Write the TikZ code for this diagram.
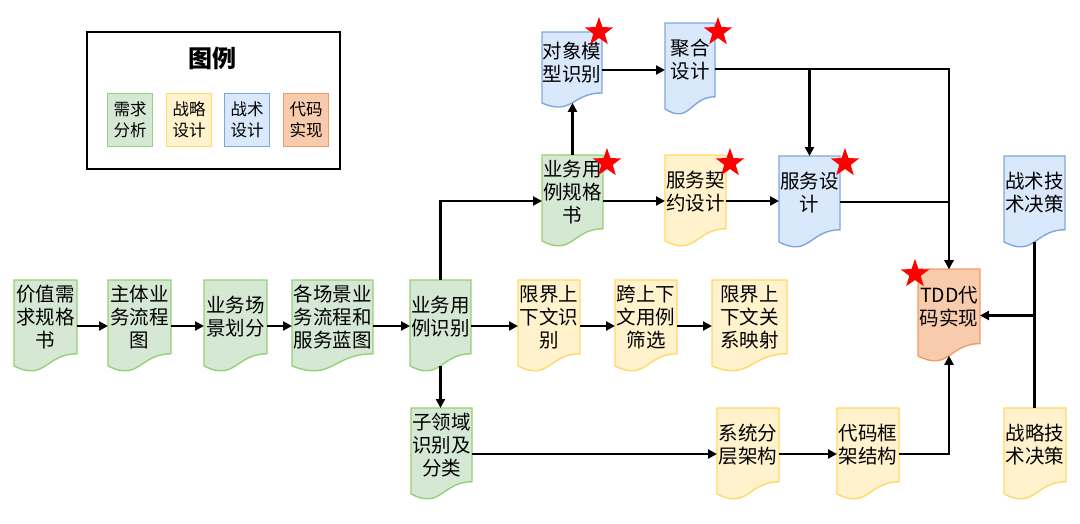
\documentclass[tikz,border=0pt]{standalone}
\usepackage{fontspec}
\newfontfamily\cjk{Noto Sans CJK SC}
\usetikzlibrary{calc,arrows.meta,shapes.geometric}
\pgfdeclarelayer{bg}
\pgfsetlayers{bg,main}
\definecolor{gfill}{HTML}{D5E8D4}
\definecolor{gline}{HTML}{97D077}
\definecolor{yfill}{HTML}{FFF2CC}
\definecolor{yline}{HTML}{FFD966}
\definecolor{bfill}{HTML}{DAE8FC}
\definecolor{bline}{HTML}{7EA6E0}
\definecolor{ofill}{HTML}{F8CBAD}
\definecolor{oline}{HTML}{F19C65}
\tikzset{
  box/.style={rectangle, draw=none, inner sep=0pt, outer sep=0pt},
  txt/.style={font=\cjk\fontsize{19.5}{23}\selectfont, align=center, inner sep=0pt},
  sgreen/.style={fill=gfill, draw=gline, line width=1.4pt},
  syellow/.style={fill=yfill, draw=yline, line width=1.4pt},
  sblue/.style={fill=bfill, draw=bline, line width=1.4pt},
  sorange/.style={fill=ofill, draw=oline, line width=1.4pt},
  arr/.style={line width=2.2pt, -{Triangle[length=9pt,width=9pt]}},
  ln/.style={line width=2.2pt},
  starmark/.style={star, star points=5, star point ratio=2.5, minimum size=30pt, inner sep=0pt, fill=red, draw=none},
  legbox/.style={rectangle, minimum width=45pt, minimum height=53pt, inner sep=0pt, align=center, font=\cjk\fontsize{16.5}{21}\selectfont},
}
\newcommand\docbox[7]{%
  \node[box, minimum width=#4pt, minimum height=#5pt, anchor=north west] (#1) at (#2,#3) {};
  \begin{pgfonlayer}{bg}
    \path[#6] (#1.north west) -- (#1.north east) -- ($(#1.north east)!0.802!(#1.south east)$)
      .. controls ($(#1.north)!0.802!(#1.south)$) and ($(#1.north)!1.1075!(#1.south)$) .. ($(#1.north west)!0.934!(#1.south west)$) -- cycle;
  \end{pgfonlayer}
  \node[txt] (#1-t) at ($(#1.north)!0.401!(#1.south)$) {#7};
  \coordinate (#1-b) at ($(#1.north)!0.933!(#1.south)$);
}
\begin{document}
\begin{tikzpicture}[x=1pt,y=-1pt]
\useasboundingbox (0,0) rectangle (1080,523);

% legend
\node[rectangle, draw=black, line width=2.4pt, minimum width=253pt, minimum height=137pt, anchor=north west, inner sep=0pt] (legend) at (86,31) {};
\node[font=\cjk\bfseries\fontsize{24}{26}\selectfont, inner sep=0pt] (legtitle) at (212,58) {图例};
\node[legbox, sgreen, anchor=north west] (lg1) at (107,93) {需求\\分析};
\node[legbox, syellow, anchor=north west] (lg2) at (166,93) {战略\\设计};
\node[legbox, sblue, anchor=north west] (lg3) at (224,93) {战术\\设计};
\node[legbox, sorange, anchor=north west] (lg4) at (283,93) {代码\\实现};

% row 1
\docbox{req}{14}{280}{63}{92}{sgreen}{价值需\\求规格\\书}
\docbox{flow}{108}{280}{63}{92}{sgreen}{主体业\\务流程\\图}
\docbox{scene}{204}{280}{63}{92}{sgreen}{业务场\\景划分}
\docbox{blueprint}{292}{280}{81}{92}{sgreen}{各场景业\\务流程和\\服务蓝图}
\docbox{ucid}{410}{280}{61}{92}{sgreen}{业务用\\例识别}
\docbox{bc}{518}{280}{62}{92}{syellow}{限界上\\下文识\\别}
\docbox{cross}{615}{280}{62}{92}{syellow}{跨上下\\文用例\\筛选}
\docbox{bcmap}{712}{280}{75}{92}{syellow}{限界上\\下文关\\系映射}

% row 2
\docbox{ucspec}{542}{155}{61}{92}{sgreen}{业务用\\例规格\\书}
\docbox{contract}{665}{155}{61}{92}{syellow}{服务契\\约设计}
\docbox{svc}{779}{156}{61}{92}{sblue}{服务设\\计}

% row 0
\docbox{obj}{542}{32}{60}{76}{sblue}{对象模\\型识别}
\docbox{agg}{665}{23}{50}{92}{sblue}{聚合\\设计}

% right side
\docbox{tdd}{918}{269}{62}{93}{sorange}{TDD代\\码实现}
\docbox{tact}{1004}{156}{61}{92}{sblue}{战术技\\术决策}
\docbox{strat}{1004}{408}{62}{92}{syellow}{战略技\\术决策}

% row 3
\docbox{sub}{411}{408}{61}{92}{sgreen}{子领域\\识别及\\分类}
\docbox{layer}{717}{408}{62}{92}{syellow}{系统分\\层架构}
\docbox{frame}{837}{408}{62}{92}{syellow}{代码框\\架结构}

% stars
\node[starmark] (st1) at (599,32) {};
\node[starmark] (st2) at (718,32) {};
\node[starmark] (st3) at (607,163) {};
\node[starmark] (st4) at (730,163) {};
\node[starmark] (st5) at (845,163) {};
\node[starmark] (st6) at (915,274) {};

% connectors
\draw[arr] (req.east) -- (flow.west);
\draw[arr] (flow.east) -- (scene.west);
\draw[arr] (scene.east) -- (blueprint.west);
\draw[arr] (blueprint.east) -- (ucid.west);
\draw[arr] (ucid.east) -- (bc.west);
\draw[arr] (bc.east) -- (cross.west);
\draw[arr] (cross.east) -- (bcmap.west);
\draw[arr] (ucid.north) |- (ucspec.west);
\draw[arr] (ucid-b) -- (ucid-b |- sub.north);
\draw[arr] (ucspec.east) -- (contract.west);
\draw[arr] (contract.east) -- (contract.east -| svc.west);
\draw[arr] (ucspec.north) -- (ucspec.north |- obj-b);
\draw[arr] (obj.east) -- (obj.east -| agg.west);
\draw[arr] (agg.east) -| (svc.north);
\draw[arr] (agg.east) -| (tdd.north);
\draw[arr] (svc.east) -| (tdd.north);
\draw[arr] (sub.east) -- (sub.east -| layer.west);
\draw[arr] (layer.east) -- (frame.west);
\draw[arr] (frame.east) -| (tdd-b);
\draw[ln] (tact-b) -- (tact-b |- strat.north);
\draw[arr] (tact-b |- tdd.east) -- (tdd.east);
\end{tikzpicture}
\end{document}
